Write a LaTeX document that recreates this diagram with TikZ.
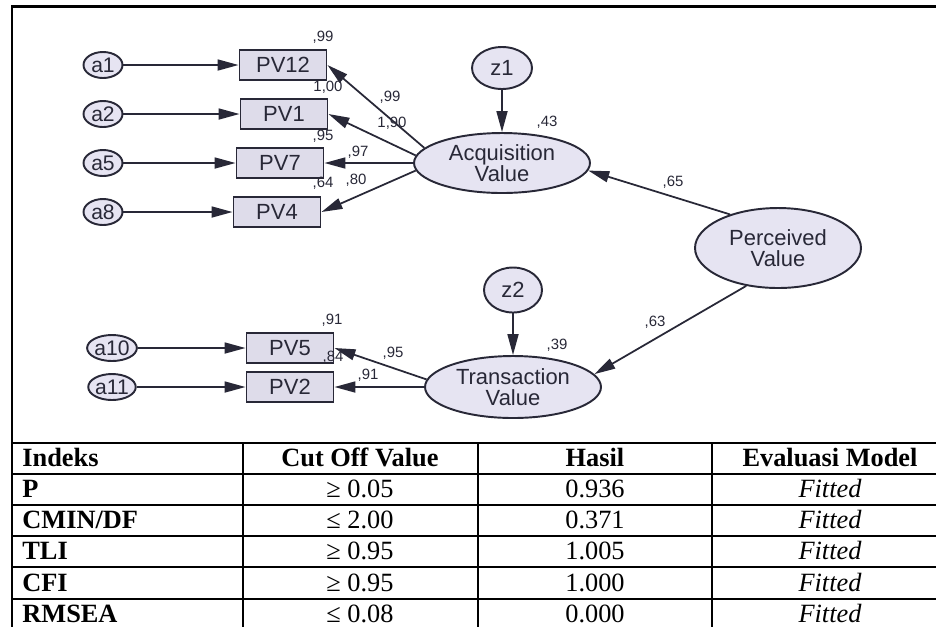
\documentclass[tikz,border=0pt]{standalone}
\usepackage{fontspec}
\setmainfont{Liberation Serif}
\newfontfamily\amosfont{Liberation Sans}
\usetikzlibrary{arrows.meta,shapes.geometric}
\definecolor{inkc}{RGB}{40,40,55}
\definecolor{boxc}{RGB}{222,220,234}
\definecolor{ovalc}{RGB}{230,228,242}
\tikzset{
  err/.style={ellipse, draw=inkc, fill=ovalc, line width=1.1pt, inner sep=0pt,
    minimum width=0.78cm, minimum height=0.52cm, text=inkc,
    font=\amosfont\fontsize{12}{12}\selectfont},
  ind/.style={rectangle, draw=inkc, fill=boxc, line width=1.1pt, inner sep=0pt,
    minimum width=1.74cm, minimum height=0.6cm, text=inkc,
    font=\amosfont\fontsize{12.5}{12}\selectfont},
  lat/.style={ellipse, draw=inkc, fill=ovalc, line width=1.1pt, inner sep=0pt,
    align=center, text=inkc, font=\amosfont\fontsize{12.5}{12}\selectfont},
  wt/.style={text=inkc, inner sep=0pt, font=\amosfont\fontsize{8.5}{9}\selectfont},
  reg/.style={draw=inkc, line width=1pt, -{Triangle[length=0.42cm,width=0.22cm]}},
  cell/.style={anchor=base, inner sep=0pt, font=\fontsize{15}{16}\selectfont},
}
\begin{document}
\begin{tikzpicture}[x=0.02cm,y=-0.02cm]
        \useasboundingbox (0,0) rectangle (936,627);

        \node[err] (a1) at (103,65) {a1};
        \node[err] (a2) at (103,114) {a2};
        \node[err] (a5) at (103,163) {a5};
        \node[err] (a8) at (103,212) {a8};
        \node[err] (a10) at (112,348) {a10};
        \node[err] (a11) at (112,387) {a11};

        \node[ind] (pv12) at (283,65) {PV12};
        \node[ind] (pv1) at (284,114) {PV1};
        \node[ind] (pv7) at (280,163) {PV7};
        \node[ind] (pv4) at (277,212) {PV4};
        \node[ind] (pv5) at (290,348) {PV5};
        \node[ind] (pv2) at (290,387) {PV2};

        \node[lat, minimum width=1.2cm, minimum height=0.84cm] (z1) at (502,68) {z1};
        \node[lat, minimum width=3.52cm, minimum height=1.2cm] (acq) at (502,163) {Acquisition\\Value};
        \node[lat, minimum width=1.16cm, minimum height=0.9cm] (z2) at (513,290) {z2};
        \node[lat, minimum width=3.52cm, minimum height=1.24cm] (trans) at (513,387) {Transaction\\Value};
        \node[lat, minimum width=3.32cm, minimum height=1.6cm] (perc) at (778,248) {Perceived\\Value};

        \draw[reg] (a1) -- (pv12);
        \draw[reg] (a2) -- (pv1);
        \draw[reg] (a5) -- (pv7);
        \draw[reg] (a8) -- (pv4);
        \draw[reg] (a10) -- (pv5);
        \draw[reg] (a11) -- (pv2);

        \draw[reg] (acq.169) -- (pv12.east);
        \draw[reg] (acq.175) -- (pv1.east);
        \draw[reg] (acq.west) -- (pv7.east);
        \draw[reg] (acq.185) -- (pv4.east);
        \draw[reg] (z1) -- (acq);
        \draw[reg] (perc.145) -- (acq.355);
        \draw[reg] (perc.230) -- (trans.9);
        \draw[reg] (z2) -- (trans);
        \draw[reg] (trans.175) -- (pv5.east);
        \draw[reg] (trans.west) -- (pv2.east);

        \node[wt] (w1) at (323,37) {,99};
        \node[wt] (w2) at (328,87) {1,00};
        \node[wt] (w3) at (390,97) {,99};
        \node[wt] (w4) at (392,123) {1,90};
        \node[wt] (w5) at (323,136) {,95};
        \node[wt] (w6) at (358,152) {,97};
        \node[wt] (w7) at (323,183) {,64};
        \node[wt] (w8) at (356,180) {,80};
        \node[wt] (w9) at (547,122) {,43};
        \node[wt] (w10) at (673,182) {,65};
        \node[wt] (w11) at (332,320) {,91};
        \node[wt] (w12) at (333,357) {,84};
        \node[wt] (w13) at (393,353) {,95};
        \node[wt] (w14) at (368,375) {,91};
        \node[wt] (w15) at (557,345) {,39};
        \node[wt] (w16) at (655,322) {,63};

        \draw[line width=1.7pt] (936,6) -- (12,6) -- (12,627);
        \draw[line width=1.3pt] (12,443) -- (936,443);
        \draw[line width=1.3pt] (12,474) -- (936,474);
        \draw[line width=1.3pt] (12,505) -- (936,505);
        \draw[line width=1.3pt] (12,536) -- (936,536);
        \draw[line width=1.3pt] (12,567) -- (936,567);
        \draw[line width=1.3pt] (12,599) -- (936,599);
        \draw[line width=1.3pt] (243,443) -- (243,627);
        \draw[line width=1.3pt] (478,443) -- (478,627);
        \draw[line width=1.3pt] (712,443) -- (712,627);

        \node[cell, anchor=base west] (h1) at (22,466) {\bfseries Indeks};
        \node[cell] (h2) at (360,466) {\bfseries Cut Off Value};
        \node[cell] (h3) at (595,466) {\bfseries Hasil};
        \node[cell] (h4) at (830,466) {\bfseries Evaluasi Model};

        \node[cell, anchor=base west] (p1) at (22,497) {\bfseries P};
        \node[cell] (p2) at (360,497) {≥ 0.05};
        \node[cell] (p3) at (595,497) {0.936};
        \node[cell] (p4) at (830,497) {\itshape Fitted};

        \node[cell, anchor=base west] (c1) at (22,528) {\bfseries CMIN/DF};
        \node[cell] (c2) at (360,528) {≤ 2.00};
        \node[cell] (c3) at (595,528) {0.371};
        \node[cell] (c4) at (830,528) {\itshape Fitted};

        \node[cell, anchor=base west] (t1) at (22,559) {\bfseries TLI};
        \node[cell] (t2) at (360,559) {≥ 0.95};
        \node[cell] (t3) at (595,559) {1.005};
        \node[cell] (t4) at (830,559) {\itshape Fitted};

        \node[cell, anchor=base west] (f1) at (22,591) {\bfseries CFI};
        \node[cell] (f2) at (360,591) {≥ 0.95};
        \node[cell] (f3) at (595,591) {1.000};
        \node[cell] (f4) at (830,591) {\itshape Fitted};

        \node[cell, anchor=base west] (r1) at (22,622) {\bfseries RMSEA};
        \node[cell] (r2) at (360,622) {≤ 0.08};
        \node[cell] (r3) at (595,622) {0.000};
        \node[cell] (r4) at (830,622) {\itshape Fitted};
      \end{tikzpicture}
\end{document}
